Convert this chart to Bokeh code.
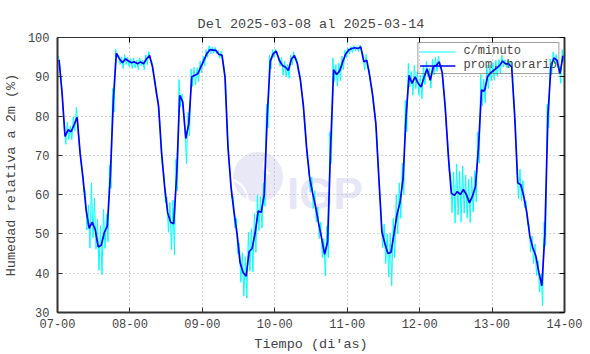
import numpy as np
from bokeh.plotting import figure
from bokeh.models import (FixedTicker, LinearAxis, Range1d, Legend, LegendItem,
                          CustomJSTickFormatter)
from bokeh.core.properties import value
from bokeh.embed import file_html
from bokeh.resources import INLINE

# ---------------- data ----------------
title_text = "Del 2025-03-08 al 2025-03-14"
x_label = "Tiempo (di'as)"
y_label = "Humedad relativa a 2m (%)"
legend_labels = ["c/minuto", "prom. horario"]
watermark_text = "IGP"

day_ticks = [7, 8, 9, 10, 11, 12, 13, 14]
day_tick_labels = ["07-00", "08-00", "09-00", "10-00", "11-00", "12-00", "13-00", "14-00"]
y_ticks = [30, 40, 50, 60, 70, 80, 90, 100]

# hourly averages (prom. horario), 24 values per day, starting 07-00
rh_day07 = [94.3, 86.0, 74.8, 76.5, 76.0, 77.8, 79.7, 70.5, 63.8, 56.0, 51.4, 53.0,
            51.1, 46.7, 47.1, 50.3, 52.0, 64.6, 84.0, 96.0, 94.6, 93.6, 94.6, 94.0]
rh_day08 = [93.6, 93.8, 93.3, 93.8, 93.3, 94.6, 95.4, 92.5, 87.4, 82.4, 70.5, 62.0,
            55.4, 53.0, 52.6, 65.0, 85.3, 83.6, 74.3, 78.0, 90.0, 90.4, 90.8, 92.5]
rh_day09 = [94.2, 95.9, 96.9, 96.8, 96.7, 95.7, 95.5, 90.0, 72.0, 62.0, 55.5, 50.0,
            42.7, 40.2, 39.2, 45.5, 46.3, 50.3, 55.8, 55.5, 60.0, 80.0, 94.0, 95.9]
rh_day10 = [96.5, 94.2, 92.9, 92.5, 91.6, 94.5, 95.4, 93.3, 89.1, 82.4, 72.3, 64.6,
            60.5, 57.0, 52.8, 49.0, 44.8, 48.0, 72.0, 91.8, 90.6, 91.5, 93.8, 95.8]
rh_day11 = [96.8, 97.2, 97.4, 97.2, 97.6, 93.8, 94.2, 90.0, 84.9, 78.0, 64.0, 50.5,
            47.5, 45.0, 45.3, 50.0, 55.0, 58.0, 64.0, 80.0, 90.4, 88.3, 90.0, 88.3]
rh_day12 = [87.4, 90.0, 92.0, 89.1, 92.5, 92.9, 93.8, 91.0, 82.0, 70.0, 60.4, 59.8,
            60.8, 60.0, 61.3, 60.0, 57.9, 59.6, 62.1, 72.0, 86.6, 86.4, 90.0, 91.0]
rh_day13 = [91.6, 92.2, 92.9, 94.0, 93.3, 93.3, 92.5, 80.0, 63.0, 62.5, 59.6, 55.4,
            49.5, 46.5, 44.4, 40.2, 36.8, 50.0, 80.0, 92.5, 94.8, 94.2, 90.8, 95.4]

# per-minute data, read as hourly spread: how far the minute values rise above
# and fall below the hourly average within each hour
up_day07 = [1, 3, 2, 2, 1.5, 2, 2.5, 2, 2, 5, 6, 10, 8, 7, 5, 6, 3, 3, 3, 1, 1, 1.5, 1, 1]
dn_day07 = [1, 3, 2, 2.5, 2, 1.5, 2, 2, 3, 5, 5, 4, 5, 6, 7.5, 4, 4, 3, 3, 1, 1.5, 1.5, 1.5, 1.5]
up_day08 = [1, 1, 1, 1, 1, 1, 1, 1.5, 2, 2, 3, 3, 4, 5, 6, 4, 4, 2, 3, 3, 2, 2, 1.5, 1.5]
dn_day08 = [1.5, 1.5, 1.5, 1, 1.5, 1.5, 1, 1.5, 2, 2, 3, 4, 5, 7, 8, 4, 3, 3, 6.5, 3, 2.5, 2.5, 2, 1.5]
up_day09 = [1, 1, 1, 0.8, 0.8, 1, 1, 2, 3, 3, 4, 4, 5, 5, 5, 5, 5, 5, 4, 4, 3, 3, 1.5, 1]
dn_day09 = [1.5, 1, 1, 0.8, 0.8, 1, 1, 2, 3, 3, 4, 5, 5, 6, 5.5, 5, 6, 5, 5, 4, 3, 3, 2, 1]
up_day10 = [0.5, 1, 2, 1.5, 1.5, 1, 1, 1.5, 2, 2, 3, 3, 4, 4, 4, 4, 4, 4, 4, 3, 2.5, 2, 1.5, 1]
dn_day10 = [1, 1.5, 2.5, 2.5, 2, 1.5, 1, 2, 2, 3, 3, 4, 4, 4, 4, 5, 5.5, 4, 4, 3, 3, 2.5, 2, 1]
up_day11 = [0.5, 0.5, 0.5, 0.5, 0.5, 2, 1.5, 2, 2, 2, 3, 4, 5, 5, 5, 4, 5, 5, 4, 4, 3, 3, 3, 3]
dn_day11 = [1, 1, 0.8, 0.8, 1, 2, 2, 2, 3, 3, 3, 4, 5, 6, 8.5, 6, 5, 4, 4, 4, 3, 3, 3, 3]
up_day12 = [3, 3, 2, 3, 2, 2, 1.5, 2, 3, 4, 5, 6, 7, 6, 6, 5, 6, 5, 4, 4, 4, 3, 3, 2]
dn_day12 = [3, 2, 2, 2, 2, 1.5, 1.5, 3, 4, 4, 5, 7, 6, 7, 6, 6, 5, 4, 4, 4, 4, 3, 3, 2]
up_day13 = [2, 2, 1.5, 1.5, 1, 1, 1.5, 3, 4, 4, 4, 3, 3, 3, 3, 3, 3, 3, 3, 2, 1.5, 1.5, 2, 1.5]
dn_day13 = [2.5, 2, 2, 1.5, 1, 1, 1.5, 3, 4, 4, 3, 3, 4, 4, 5, 5, 5, 3, 3, 2, 1.5, 2, 2.5, 1.5]

# ---------------- build series ----------------
hourly = np.array(rh_day07 + rh_day08 + rh_day09 + rh_day10 + rh_day11 + rh_day12 + rh_day13)
up = np.array(up_day07 + up_day08 + up_day09 + up_day10 + up_day11 + up_day12 + up_day13)
dn = np.array(dn_day07 + dn_day08 + dn_day09 + dn_day10 + dn_day11 + dn_day12 + dn_day13)
n = len(hourly)
k = np.arange(n)
t_hour = day_ticks[0] + (k + 0.5) / 24.0

t_min = np.empty(2 * n)
v_min = np.empty(2 * n)
t_min[0::2] = day_ticks[0] + (k + 0.25) / 24.0
t_min[1::2] = day_ticks[0] + (k + 0.75) / 24.0
v_min[0::2] = hourly + up
v_min[1::2] = hourly - dn

FONT = "Liberation Mono"
TXT = "#444444"

p = figure(width=590, height=354,
           x_range=Range1d(day_ticks[0], day_ticks[-1]),
           y_range=Range1d(y_ticks[0], y_ticks[-1]),
           output_backend="svg", toolbar_location=None,
           min_border_left=54, min_border_right=26,
           min_border_top=37, min_border_bottom=41)

p.background_fill_color = "white"
p.border_fill_color = "white"
p.outline_line_color = "#333333"
p.outline_line_width = 1

p.title.text = title_text
p.title.align = "center"
p.title.text_font = FONT
p.title.text_font_size = "13.5px"
p.title.text_font_style = "normal"
p.title.text_color = TXT
p.title.standoff = 12

xax = p.xaxis[0]
xax.ticker = FixedTicker(ticks=day_ticks)
xax.major_label_overrides = {d: lab for d, lab in zip(day_ticks, day_tick_labels)}
yax = p.yaxis[0]
yax.ticker = FixedTicker(ticks=y_ticks)

for ax in (xax, yax):
    ax.major_tick_in = 5
    ax.major_tick_out = 0
    ax.minor_tick_line_color = None
    ax.axis_line_color = "#333333"
    ax.axis_line_width = 2
    ax.major_tick_line_color = "#333333"
    ax.major_label_text_font = FONT
    ax.major_label_text_font_size = "12px"
    ax.major_label_text_color = TXT
    ax.axis_label_text_font = FONT
    ax.axis_label_text_font_size = "13.5px"
    ax.axis_label_text_font_style = "normal"
    ax.axis_label_text_color = TXT

xax.axis_label = x_label
yax.axis_label = y_label
xax.major_label_standoff = 6
xax.axis_label_standoff = 6
yax.major_label_standoff = 8
yax.axis_label_standoff = 6

# mirrored inward ticks on top and right
blank = CustomJSTickFormatter(code="return ''")
top_ax = LinearAxis(ticker=FixedTicker(ticks=day_ticks), formatter=blank,
                    major_tick_in=5, major_tick_out=0, minor_tick_line_color=None,
                    axis_line_color="#333333", axis_line_width=1,
                    major_label_standoff=0)
right_ax = LinearAxis(ticker=FixedTicker(ticks=y_ticks), formatter=blank,
                      major_tick_in=5, major_tick_out=0, minor_tick_line_color=None,
                      axis_line_color="#333333", axis_line_width=2,
                      major_label_standoff=0)
p.add_layout(top_ax, "above")
p.add_layout(right_ax, "right")

p.xgrid.ticker = FixedTicker(ticks=day_ticks)
p.ygrid.ticker = FixedTicker(ticks=y_ticks)
for g in (p.xgrid, p.ygrid):
    g.grid_line_color = "#aaaaaa"
    g.grid_line_dash = "1 3"
    g.grid_line_width = 1

# watermark (IGP logo), drawn below the grid
logo_x, logo_y = 9.77, 64.5
p.scatter(x=[logo_x], y=[logo_y], size=50, marker="circle", fill_color="#e8e8f7",
          line_color=None, level="image")
p.arc(x=[logo_x + 0.2], y=[logo_y + 3.0], radius=[9, 16, 23], radius_units="screen",
      start_angle=2.2, end_angle=4.4, line_color="white", line_width=2, level="image")
p.arc(x=[logo_x - 0.45], y=[logo_y - 6.0], radius=[22, 30], radius_units="screen",
      start_angle=-0.1, end_angle=1.2, line_color="white", line_width=2, level="image")
p.text(x=[10.17], y=[60.3], text=[watermark_text], text_font=value("Liberation Sans"),
       text_font_style="bold", text_font_size="44px", text_color="#e6e6f6",
       text_baseline="alphabetic", level="image")

cyan_r = p.line(t_min, v_min, line_color="#00ffff", line_width=1)
blue_r = p.line(t_hour, hourly, line_color="#0000ff", line_width=1.7)

legend = Legend(items=[LegendItem(label=legend_labels[0], renderers=[cyan_r]),
                       LegendItem(label=legend_labels[1], renderers=[blue_r])],
                location="top_right")
legend.label_text_font = FONT
legend.label_text_font_size = "12px"
legend.label_text_color = TXT
legend.border_line_color = "#444444"
legend.border_line_width = 1
legend.background_fill_alpha = 0
legend.glyph_width = 36
legend.glyph_height = 11
legend.label_height = 11
legend.label_standoff = 8
legend.padding = 1
legend.spacing = 0
legend.margin = 5
p.add_layout(legend)

open("out.html", "w").write(file_html(p, INLINE))
